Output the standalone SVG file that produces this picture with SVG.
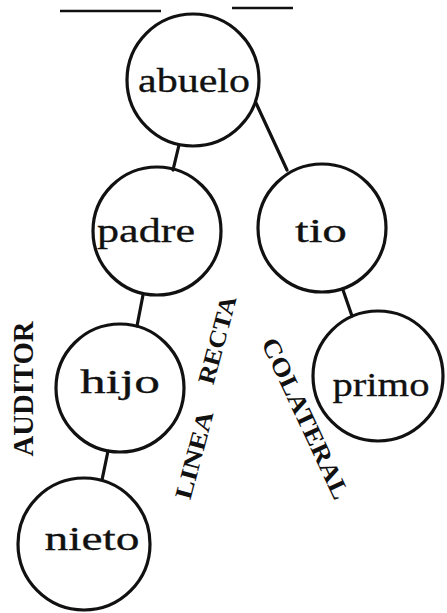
<svg xmlns="http://www.w3.org/2000/svg" width="447" height="613" viewBox="0 0 447 613">
<style>
.node circle{fill:none;stroke:#111;stroke-width:3.2}
.node text{font-family:"Liberation Serif","DejaVu Serif",serif;font-size:34px;fill:#111;text-anchor:middle;stroke:#111;stroke-width:0.3}
.conn line{stroke:#111;stroke-width:3.2;stroke-linecap:round}
.lbl{font-family:"Liberation Serif","DejaVu Serif",serif;font-weight:bold;fill:#111;text-anchor:middle}
</style>
<rect width="447" height="613" fill="#fff"/>
<g id="header">
<line x1="60" y1="11" x2="161" y2="11" stroke="#111" stroke-width="2.5"/>
<line x1="232" y1="8" x2="293" y2="8" stroke="#111" stroke-width="2.5"/>
</g>
<g id="connectors" class="conn">
<line x1="179" y1="145" x2="173" y2="170"/>
<line x1="256" y1="103" x2="287" y2="170"/>
<line x1="143" y1="295" x2="137" y2="326"/>
<line x1="343" y1="290" x2="352" y2="316"/>
<line x1="108" y1="451" x2="102" y2="480"/>
</g>
<g id="abuelo" class="node"><circle cx="193" cy="80" r="66"/><text x="194" y="92" textLength="112" lengthAdjust="spacingAndGlyphs">abuelo</text></g>
<g id="padre" class="node"><circle cx="157" cy="231" r="64"/><text x="146" y="242" textLength="98" lengthAdjust="spacingAndGlyphs">padre</text></g>
<g id="tio" class="node"><circle cx="322" cy="228" r="64"/><text x="321" y="242" textLength="52" lengthAdjust="spacingAndGlyphs">tio</text></g>
<g id="hijo" class="node"><circle cx="120" cy="388" r="64"/><text x="120" y="393" textLength="80" lengthAdjust="spacingAndGlyphs">hijo</text></g>
<g id="primo" class="node"><circle cx="378" cy="376" r="65"/><text x="381" y="396" textLength="97" lengthAdjust="spacingAndGlyphs">primo</text></g>
<g id="nieto" class="node"><circle cx="84" cy="544" r="66"/><text x="92" y="550" textLength="95" lengthAdjust="spacingAndGlyphs">nieto</text></g>
<g id="labels">
<text class="lbl" font-size="29" transform="translate(33,389) rotate(-90)" textLength="135" lengthAdjust="spacingAndGlyphs">AUDITOR</text>
<text class="lbl" font-size="24" transform="translate(202,457) rotate(-75)" textLength="90" lengthAdjust="spacingAndGlyphs">LINEA</text>
<text class="lbl" font-size="24" transform="translate(225,342) rotate(-75)" textLength="90" lengthAdjust="spacingAndGlyphs">RECTA</text>
<text class="lbl" font-size="25" transform="translate(298,422) rotate(65)" textLength="175" lengthAdjust="spacingAndGlyphs">COLATERAL</text>
</g>
</svg>
